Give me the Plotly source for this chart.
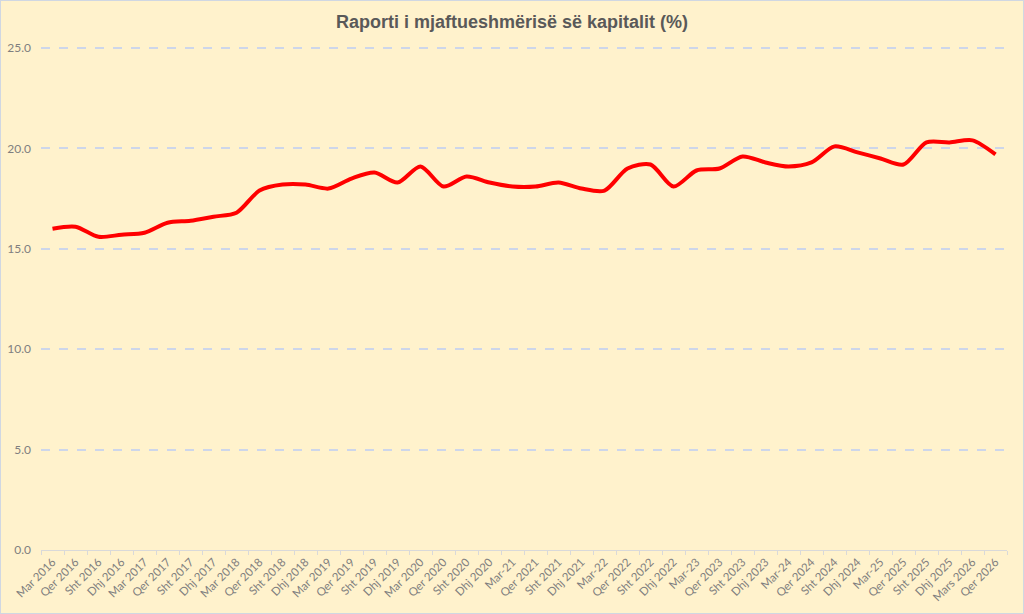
import plotly.graph_objects as go

# quarter labels as they appear on the axis
quarters = [
    "Mar 2016", "Qer 2016", "Sht 2016", "Dhj 2016",
    "Mar 2017", "Qer 2017", "Sht 2017", "Dhj 2017",
    "Mar 2018", "Qer 2018", "Sht 2018", "Dhj 2018",
    "Mar 2019", "Qer 2019", "Sht 2019", "Dhj 2019",
    "Mar 2020", "Qer 2020", "Sht 2020", "Dhj 2020",
    "Mar-21", "Qer 2021", "Sht 2021", "Dhj 2021",
    "Mar-22", "Qer 2022", "Sht 2022", "Dhj 2022",
    "Mar-23", "Qer 2023", "Sht 2023", "Dhj 2023",
    "Mar-24", "Qer 2024", "Sht 2024", "Dhj 2024",
    "Mar-25", "Qer 2025", "Sht 2025", "Dhj 2025",
    "Mars 2026", "Qer 2026",
]

# capital adequacy ratio (%)
ratio = [
    16.0, 16.1, 15.6, 15.7,
    15.8, 16.3, 16.4, 16.6,
    16.8, 17.9, 18.2, 18.2,
    18.0, 18.5, 18.8, 18.3,
    19.1, 18.1, 18.6, 18.3,
    18.1, 18.1, 18.3, 18.0,
    17.9, 19.0, 19.2, 18.1,
    18.9, 19.0, 19.6, 19.3,
    19.1, 19.3, 20.1, 19.8,
    19.5, 19.2, 20.3, 20.3,
    20.4, 19.7,
]

bg = "#FFF2CC"
fig = go.Figure()
fig.add_trace(go.Scatter(
    x=quarters, y=ratio, mode="lines",
    line=dict(color="#FF0000", width=4, shape="spline", smoothing=0.8),
    hoverinfo="x+y",
))

fig.update_layout(
    width=1024, height=614,
    paper_bgcolor=bg, plot_bgcolor=bg,
    margin=dict(l=41, r=17, t=44, b=64),
    showlegend=False,
    title=dict(
        text="<b>Raporti i mjaftueshmërisë së kapitalit (%)</b>",
        x=0.5, xanchor="center", y=1 - 22 / 614, yanchor="middle",
        font=dict(family="Liberation Sans, Arial", size=18, color="#595959"),
    ),
)
fig.update_xaxes(
    type="category", tickangle=-45, automargin=False,
    tickfont=dict(family="Lato, Liberation Sans", size=11.5, color="#7f7f7f"),
    showgrid=False, showline=True, linecolor="#d9d9d9", linewidth=1,
    ticks="outside", tickson="boundaries", ticklen=4, tickcolor="#d9d9d9",
    range=[-0.5, len(quarters) - 0.5],
)
fig.update_yaxes(
    range=[0, 25.2], tickvals=[0, 5, 10, 15, 20, 25], tickformat=".1f",
    automargin=False,
    tickfont=dict(family="Lato, Liberation Sans", size=12, color="#7f7f7f"),
    showgrid=True, gridcolor="#cdd6ea", griddash="dash", gridwidth=1.5,
    zeroline=False, showline=False, ticks="", ticklabelstandoff=9,
)

# thin light border around the whole chart like the source image
fig.add_shape(type="rect", xref="paper", yref="paper",
              x0=-41 / 966, x1=1 + 17 / 966, y0=-64 / 506, y1=1 + 44 / 506,
              line=dict(color="#d0d7e2", width=2), layer="below")

# drop the default page margin so the figure sits at the window's corner
fig.write_html(
    "out.html",
    config={"displayModeBar": False},
    post_script="document.body.style.margin='0';"
                "document.body.style.background='#FFF2CC';"
                "document.body.style.overflow='hidden';",
)
